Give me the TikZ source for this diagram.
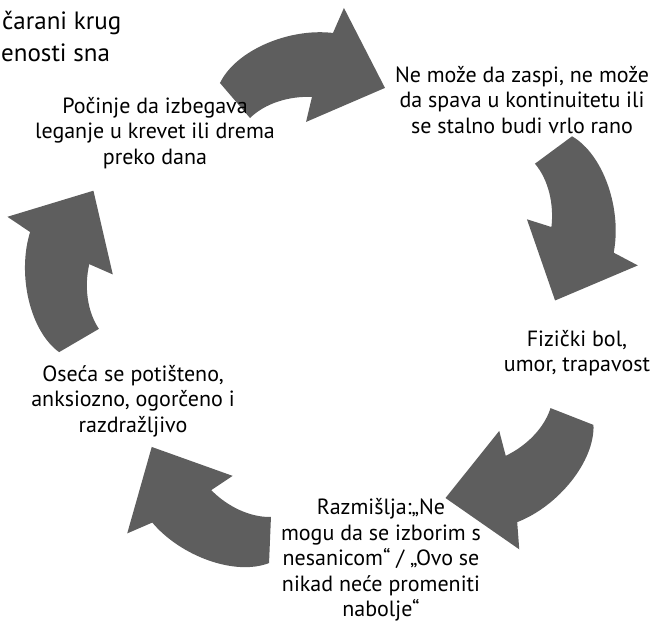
\documentclass[tikz,border=0pt]{standalone}
\usepackage{fontspec}
\setmainfont{PT Sans}
\definecolor{arrowgray}{HTML}{5E5E5E}

\begin{document}
\begin{tikzpicture}[
    x=1pt, y=-1pt,
    pics/bentArrow/.style={     % one curved block arrow
        code={
            % ~~~ outline, tail centre at origin, tip along +x ~~~
            \fill[arrowgray]
                (-13.5,-18.7) .. controls (5,-50) and (60,-68) .. (103.3,-59.1)
                -- (116.3,-83.1) -- (150.5,0) -- (69,27.3) -- (77,2.9)
                .. controls (55,0) and (30,5) .. (13.5,18.7) -- cycle;
        } % end code
    }, % end pics
    stagetext/.style={align=center, inner sep=0pt,
        font=\fontsize{22}{25.5}\selectfont},
    titletext/.style={anchor=base west, inner sep=0pt,
        font=\fontsize{25}{30}\selectfont},
 ]
    \useasboundingbox (0,0) rectangle (655,627);
    % ~~~ the five arrows of the circle ~~~~~~~~~~~~~~
    \foreach \x/\y/\r in {235/100.5/4.8, 553.5/150/-89.4,
                          572/416.5/-147.2, 270/540/141.8,
                          79/340.5/84.5}
        \pic[rotate=\r] at (\x,\y) {bentArrow};
    % ~~~ title, cut at the left edge ~~~~~~~~~~~~~~~~
    \node[titletext] (title1) at (2,29) {čarani krug};
    \node[titletext] (title2) at (1,61) {enosti sna};
    % ~~~ stages ~~~~~~~~~~~~~~~~~~~~~~~~~~~~~~~~~~~~~
    \node[stagetext] (sleepless) at (522,100)
        {Ne može da zaspi, ne može\\da spava u kontinuitetu ili\\se stalno budi vrlo rano};
    \node[stagetext] (pain) at (577,353)
        {Fizički bol,\\umor, trapavost};
    \node[stagetext] (thoughts) at (381,560)
        {Razmišlja:„Ne\\mogu da se izborim s\\nesanicom“ / „Ovo se\\nikad neće promeniti\\nabolje“};
    \node[stagetext] (mood) at (133,401)
        {Oseća se potišteno,\\anksiozno, ogorčeno i\\razdražljivo};
    \node[stagetext] (avoid) at (155,133)
        {Počinje da izbegava\\leganje u krevet ili drema\\preko dana};
\end{tikzpicture}
\end{document}
